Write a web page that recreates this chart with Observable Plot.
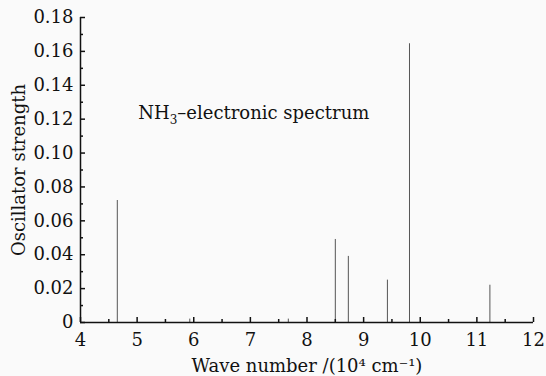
<!DOCTYPE html>
<html><head><meta charset="utf-8">
<script src="https://cdn.jsdelivr.net/npm/d3@7"></script>
<script src="https://cdn.jsdelivr.net/npm/@observablehq/plot@0.6"></script>
<style>
body{margin:0;background:#fafafa;}
svg{font-family:"DejaVu Serif",serif;}
</style></head><body>
<div id="chart"></div>
<script>
const waveNumbers = [4.65, 5.93, 7.67, 8.50, 8.73, 9.42, 9.81, 11.23];
const strengths   = [0.072, 0.002, 0.002, 0.049, 0.039, 0.025, 0.1645, 0.022];
const xTicks = [4,5,6,7,8,9,10,11,12];
const xMinor = [4.5,5.5,6.5,7.5,8.5,9.5,10.5,11.5];
const yTicks = [0,0.02,0.04,0.06,0.08,0.10,0.12,0.14,0.16,0.18];
const yMinor = [0.01,0.03,0.05,0.07,0.09,0.11,0.13,0.15,0.17];
const annotation = ["NH3–electronic spectrum"];

const data = waveNumbers.map((w,i)=>({w, f: strengths[i]}));

const chart = Plot.plot({
  width: 546, height: 376,
  marginLeft: 80, marginRight: 13, marginTop: 17, marginBottom: 54,
  style: {background: "#fafafa", fontFamily: "DejaVu Serif, serif", fontSize: "18px", color: "#111"},
  x: {domain: [4, 12]},
  y: {domain: [0, 0.18]},
  marks: [
    Plot.ruleX(data, {x: "w", y1: 0, y2: "f", stroke: "#555", strokeWidth: 1}),
    Plot.axisX(xTicks, {tickSize: -5, tickPadding: 16, strokeWidth: 1.5, fontSize: 18,
      label: "Wave number /(10⁴ cm⁻¹)", labelAnchor: "center", labelArrow: "none", labelOffset: 49}),
    Plot.axisX(xMinor, {tickSize: -3, text: null, label: null, strokeWidth: 1.5}),
    Plot.axisY(yTicks, {tickSize: -5, tickPadding: 12, strokeWidth: 1.5, fontSize: 18,
      tickFormat: d => d === 0 ? "0" : d.toFixed(2),
      label: "Oscillator strength", labelAnchor: "center", labelArrow: "none", labelOffset: 68}),
    Plot.axisY(yMinor, {tickSize: -3, text: null, label: null, strokeWidth: 1.5}),
    Plot.ruleY([0], {stroke: "#111", strokeWidth: 1.5}),
    Plot.ruleX([4], {stroke: "#111", strokeWidth: 1.5}),
    Plot.text(annotation, {x: 5.02, y: 0.1235, text: d => d, textAnchor: "start", fontSize: 18, fill: "#111"})
  ]
});
document.getElementById("chart").appendChild(chart);
// render the "3" of NH3 as a subscript
chart.querySelectorAll("text").forEach(t => {
  if (t.textContent === annotation[0]) {
    const s = t.textContent;
    t.textContent = "";
    const ns = "http://www.w3.org/2000/svg";
    const a = document.createElementNS(ns, "tspan"); a.textContent = s.slice(0, 2);
    const b = document.createElementNS(ns, "tspan"); b.textContent = s.slice(2, 3);
    b.setAttribute("dy", "5"); b.setAttribute("font-size", "12");
    const c = document.createElementNS(ns, "tspan"); c.textContent = s.slice(3);
    c.setAttribute("dy", "-5");
    t.append(a, b, c);
  }
});
</script></body></html>
